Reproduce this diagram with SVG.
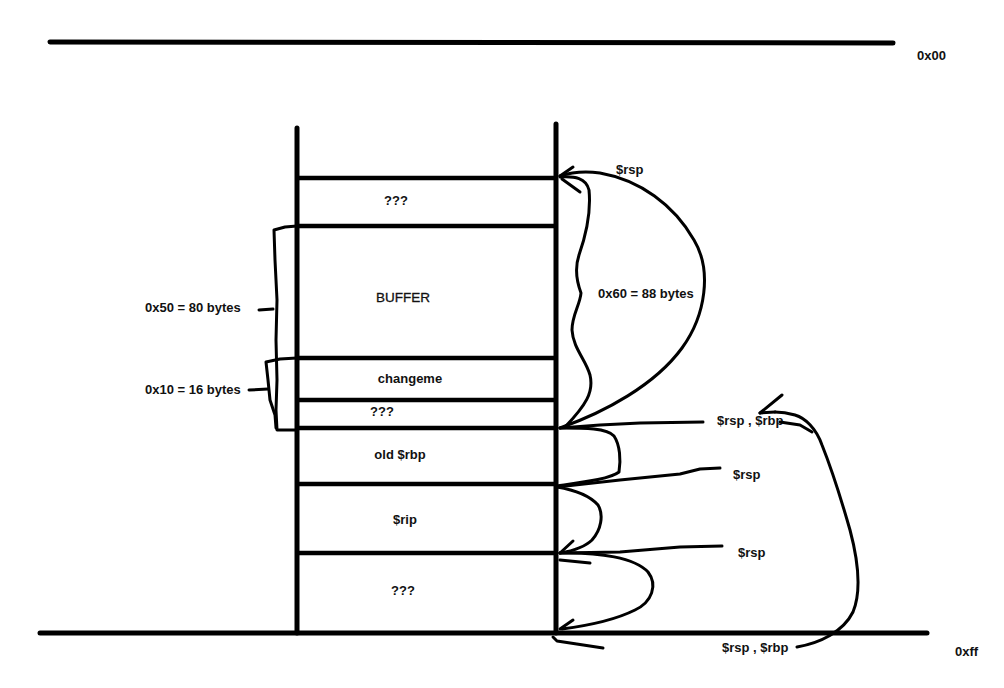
<svg xmlns="http://www.w3.org/2000/svg" width="1004" height="688" viewBox="0 0 1004 688">
<style>
.bg{fill:#fff}
.thick{stroke:#000;stroke-width:5;fill:none;stroke-linecap:round}
.row{stroke:#000;stroke-width:4.5;fill:none}
.hand{stroke:#000;stroke-width:3;fill:none;stroke-linecap:round;stroke-linejoin:round}
text{font-family:"Liberation Sans",Arial,sans-serif;font-size:13px;font-weight:bold;fill:#111}
.reg{font-weight:normal;font-size:13.5px}
.mid{text-anchor:middle}
</style>
<rect class="bg" width="1004" height="688"/>
<g id="axis">
<line class="thick" x1="50" y1="42" x2="893" y2="43"/>
<line class="thick" x1="40" y1="633" x2="927" y2="633"/>
<line class="thick" x1="297" y1="128" x2="297" y2="633"/>
<line class="thick" x1="556" y1="124" x2="556" y2="633"/>
<text x="917" y="60">0x00</text>
<text x="955" y="656">0xff</text>
</g>
<g id="cell-top">
<line class="row" x1="297" y1="178" x2="556" y2="178"/>
<text class="mid" x="396" y="205">???</text>
</g>
<g id="cell-buffer">
<line class="row" x1="297" y1="226" x2="556" y2="226"/>
<text class="mid reg" x="403" y="302" stroke="#111" stroke-width="0.3">BUFFER</text>
</g>
<g id="cell-changeme">
<line class="row" x1="297" y1="358" x2="556" y2="358"/>
<text class="mid" x="410" y="383">changeme</text>
</g>
<g id="cell-pad">
<line class="row" x1="297" y1="400" x2="556" y2="400"/>
<text class="mid" x="382" y="416">???</text>
</g>
<g id="cell-oldrbp">
<line class="row" x1="297" y1="428" x2="556" y2="428"/>
<text class="mid" x="400" y="459">old $rbp</text>
</g>
<g id="cell-rip">
<line class="row" x1="297" y1="484" x2="556" y2="484"/>
<text class="mid" x="405" y="524">$rip</text>
</g>
<g id="cell-bottom">
<line class="row" x1="297" y1="553" x2="556" y2="553"/>
<text class="mid" x="403" y="595">???</text>
</g>
<g id="bracket-80">
<polyline class="hand" points="297,226 285,227 274,230 275,260 277,300 276,340 277,380 276,410 277,430 297,430"/>
<line class="hand" x1="259" y1="310" x2="273" y2="309"/>
<text x="145" y="312">0x50 = 80 bytes</text>
</g>
<g id="bracket-16">
<polyline class="hand" points="297,358 280,359 266,362 268,380 270,400 275,415 276,428"/>
<line class="hand" x1="249" y1="390" x2="268" y2="389"/>
<text x="145" y="394">0x10 = 16 bytes</text>
</g>
<g id="labels">
<text x="616" y="174">$rsp</text>
<text x="598" y="298">0x60 = 88 bytes</text>
<text x="717" y="425">$rsp , $rbp</text>
<text x="733" y="479">$rsp</text>
<text x="738" y="557">$rsp</text>
<text x="722" y="652">$rsp , $rbp</text>
</g>
<g id="connectors">
<path class="hand" d="M560,428 C605,412 655,385 682,348 C706,315 712,270 694,240 C674,205 640,180 600,173 C585,171 572,172 560,176"/>
<polyline class="hand" points="560,176 573,167"/>
<polyline class="hand" points="562,179 580,192"/>
<path class="hand" d="M560,177 C575,176 586,178 589,190 C591,210 586,235 579,255 C574,270 578,285 581,293 C580,305 572,315 572,330 C573,348 586,360 590,375 C594,392 586,405 565,427"/>
<polyline class="hand" points="703,422 640,423 600,425 560,428"/>
<path class="hand" d="M560,428 C585,428 607,428 614,436 C620,445 621,460 619,472 C610,479 585,482 557,486"/>
<polyline class="hand" points="720,468 700,469 680,474 620,480 557,487"/>
<path class="hand" d="M557,487 C575,490 590,496 598,505 C604,515 601,530 592,540 C584,548 572,551 560,553"/>
<polyline class="hand" points="573,541 560,553"/>
<polyline class="hand" points="560,560 590,563"/>
<polyline class="hand" points="722,546 680,547 620,552 560,553"/>
<path class="hand" d="M560,553 C600,552 635,558 648,572 C658,585 652,602 635,610 C615,620 585,626 562,629"/>
<polyline class="hand" points="573,620 560,629"/>
<polyline class="hand" points="553,637 557,641 603,648"/>
<path class="hand" d="M797,647 C820,643 843,632 853,612 C862,590 858,560 850,530 C840,495 830,465 822,445 C816,428 805,418 795,415 C788,413 780,412 775,412"/>
<polyline class="hand" points="780,422 800,425 812,432"/>
<polyline class="hand" points="760,413 782,395"/>
<polyline class="hand" points="760,413 775,412"/>
</g>
</svg>
